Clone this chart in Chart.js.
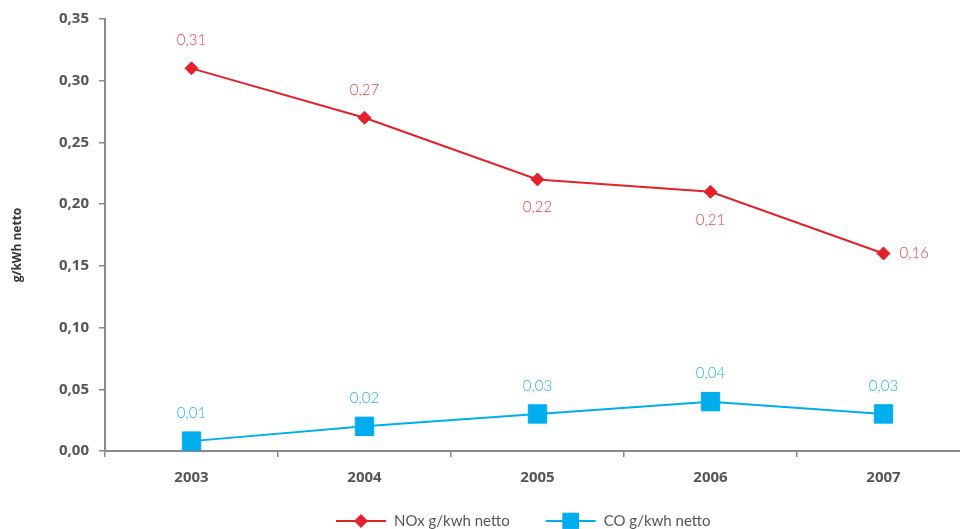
<!DOCTYPE html>
<html>
<head>
<meta charset="utf-8">
<script src="https://cdn.jsdelivr.net/npm/chart.js@4/dist/chart.umd.min.js"></script>
<style>
  html, body { margin: 0; padding: 0; background: #fff; overflow: hidden; }
  #wrap { width: 984px; height: 529px; }
  canvas { display: block; }
</style>
</head>
<body>
<div id="wrap"><canvas id="c" width="984" height="529" style="width:984px;height:529px"></canvas></div>
<script>
// Emissions per kWh net, 2003–2007
const years = ['2003', '2004', '2005', '2006', '2007'];
const noxValues = [0.31, 0.27, 0.22, 0.21, 0.16];
const coValues = [0.008, 0.02, 0.03, 0.04, 0.03];
const yTicks = [0, 0.05, 0.10, 0.15, 0.20, 0.25, 0.30, 0.35];
const seriesNames = ['NOx g/kwh netto', 'CO g/kwh netto'];
const yTitle = 'g/kWh netto';

const RED = '#e3212b';
const RED_LABEL = '#ee3f48';
const BLUE = '#00adee';
const BLUE_LABEL = '#27b3ea';
const AXIS = '#8a8a8a';
const TEXT = '#555555';

const fmt = v => v.toFixed(2).replace('.', ',');

// Value labels next to each point
const valueLabels = {
  id: 'valueLabels',
  afterDatasetsDraw(chart) {
    const ctx = chart.ctx;
    ctx.save();
    ctx.font = '300 15px Lato, "Open Sans", sans-serif';
    chart.data.datasets.forEach((ds, i) => {
      const meta = chart.getDatasetMeta(i);
      meta.data.forEach((pt, j) => {
        const place = ds.labelPlace[j];
        let x = pt.x, y = pt.y;
        ctx.fillStyle = ds.labelColor;
        ctx.textBaseline = 'middle';
        if (place === 'top') { ctx.textAlign = 'center'; y -= 28; }
        else if (place === 'bottom') { ctx.textAlign = 'center'; y += 28; }
        else { ctx.textAlign = 'left'; x += 16; }
        ctx.fillText(fmt(ds.data[j]), x, y);
      });
    });
    ctx.restore();
  }
};

// Rotated axis title and legend with line + marker swatches
const extras = {
  id: 'extras',
  afterDraw(chart) {
    const ctx = chart.ctx;
    ctx.save();
    ctx.translate(18, 245);
    ctx.rotate(-Math.PI / 2);
    ctx.font = 'bold 12px "Open Sans", sans-serif';
    ctx.fillStyle = '#333';
    ctx.textAlign = 'center';
    ctx.textBaseline = 'middle';
    ctx.fillText(yTitle, 0, 0);
    ctx.restore();

    ctx.save();
    ctx.font = '15px Lato, sans-serif';
    ctx.textBaseline = 'middle';
    const ly = 521;
    let x = 336;
    chart.data.datasets.forEach((ds) => {
      ctx.strokeStyle = ds.borderColor;
      ctx.lineWidth = 2;
      ctx.beginPath();
      ctx.moveTo(x, ly);
      ctx.lineTo(x + 50, ly);
      ctx.stroke();
      ctx.fillStyle = ds.pointBackgroundColor;
      ctx.strokeStyle = ds.pointBorderColor;
      ctx.lineWidth = 1;
      Chart.helpers.drawPoint(ctx, {
        pointStyle: ds.pointStyle,
        radius: ds.pointRadius * (ds.pointStyle === 'rect' ? 0.85 : 1),
        rotation: 0,
        borderWidth: 1
      }, x + 25, ly);
      ctx.fillStyle = TEXT;
      ctx.textAlign = 'left';
      ctx.fillText(ds.label, x + 58, ly);
      x += 58 + ctx.measureText(ds.label).width + 36;
    });
    ctx.restore();
  }
};

new Chart(document.getElementById('c'), {
  type: 'line',
  data: {
    labels: years,
    datasets: [
      {
        label: seriesNames[0],
        data: noxValues,
        borderColor: RED,
        borderWidth: 2,
        pointStyle: 'rectRot',
        pointRadius: 6.5,
        pointBackgroundColor: RED,
        pointBorderColor: RED,
        pointBorderWidth: 1,
        labelColor: RED_LABEL,
        labelPlace: ['top', 'top', 'bottom', 'bottom', 'right'],
        tension: 0
      },
      {
        label: seriesNames[1],
        data: coValues,
        borderColor: BLUE,
        borderWidth: 2,
        pointStyle: 'rect',
        pointRadius: 13,
        pointBackgroundColor: BLUE,
        pointBorderColor: BLUE,
        pointBorderWidth: 1,
        labelColor: BLUE_LABEL,
        labelPlace: ['top', 'top', 'top', 'top', 'top'],
        tension: 0
      }
    ]
  },
  options: {
    responsive: false,
    animation: false,
    events: [],
    layout: { padding: { top: 18, right: 5, left: 0, bottom: 0 } },
    plugins: {
      legend: { display: false },
      tooltip: { enabled: false },
      title: { display: false }
    },
    scales: {
      x: {
        type: 'category',
        offset: true,
        grid: {
          offset: true,
          drawOnChartArea: false,
          drawTicks: true,
          tickLength: 6,
          color: AXIS,
          lineWidth: 1.5
        },
        border: { display: true, color: AXIS, width: 2 },
        ticks: {
          color: TEXT,
          padding: 12,
          font: { family: '"Open Sans", sans-serif', size: 15, weight: 'bold' }
        },
        afterFit(scale) { scale.height = 78; }
      },
      y: {
        min: 0,
        max: 0.35,
        afterBuildTicks(scale) { scale.ticks = yTicks.map(v => ({ value: v })); },
        grid: {
          drawOnChartArea: false,
          drawTicks: true,
          tickLength: 6,
          color: AXIS,
          lineWidth: 1.5
        },
        border: { display: true, color: AXIS, width: 2 },
        ticks: {
          color: TEXT,
          padding: 10,
          font: { family: '"Open Sans", sans-serif', size: 15, weight: 'bold' },
          callback: v => fmt(v)
        },
        afterFit(scale) { scale.width = 105; }
      }
    }
  },
  plugins: [valueLabels, extras]
});
</script>
</body>
</html>
